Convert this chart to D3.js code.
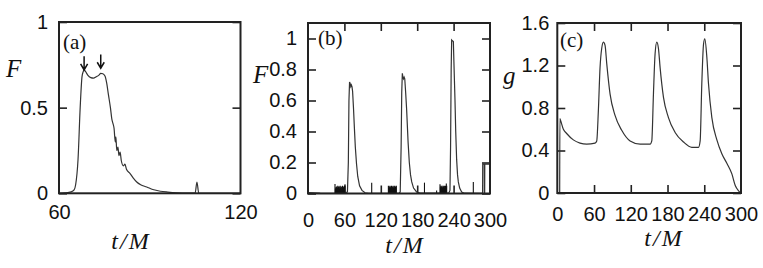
<!DOCTYPE html>
<html>
<head>
<meta charset="utf-8">
<script src="https://cdn.jsdelivr.net/npm/d3@7"></script>
<style>
  body { margin: 0; background: #fff; }
  .tick text { font-family: "Liberation Sans", Arial, sans-serif; font-size: 20px; fill: #111; }
  .tick line { stroke: #222; stroke-width: 1.6; }
  .lab { font-family: "Liberation Serif", "Times New Roman", serif; fill: #111; }
</style>
</head>
<body>
<div id="chart"></div>
<script>
// panel (a): F vs t/M, zoom on first burst
var aT = [60, 62, 64, 65, 65.5, 66.3, 67, 67.6, 68, 68.3, 68.8, 69.5, 70.5, 71.4, 72.3, 73.2, 73.8, 74.5, 75.2, 75.8, 76.3, 77, 77.5, 77.8, 78.2, 78.6, 78.8, 79.1, 79.5, 79.8, 80.2, 80.6, 81.3, 81.8, 82.3, 83.5, 84.5, 85.7, 87, 89, 91, 93.5, 96, 99, 102, 105, 105.6, 106.2, 110, 120];
var aF = [0, 0.002, 0.008, 0.02, 0.05, 0.2, 0.5, 0.68, 0.71, 0.72, 0.71, 0.69, 0.675, 0.672, 0.68, 0.69, 0.70, 0.698, 0.685, 0.64, 0.58, 0.50, 0.43, 0.41, 0.38, 0.30, 0.33, 0.25, 0.27, 0.22, 0.24, 0.19, 0.16, 0.17, 0.14, 0.115, 0.09, 0.066, 0.05, 0.037, 0.022, 0.012, 0.007, 0.003, 0.001, 0.001, 0.066, 0.001, 0, 0];
var aXTicks = [60, 120];
var aYTicks = [0, 0.5, 1];
var arrowT = [68.3, 73.8];
var arrowTop = [0.80, 0.81];
var arrowTip = [0.72, 0.73];

// panel (b): F vs t/M, full run
var bT = [0, 10, 20, 30, 44, 61, 65, 66.5, 67.5, 68.5, 69.5, 70.5, 71.5, 72.5, 73.5, 75, 76.5, 78, 80, 82, 85, 89, 94, 100, 150, 152, 153.5, 154.5, 155.5, 156.5, 157.5, 158.5, 159.5, 161, 162.6, 165, 167, 169, 171, 174, 179, 185, 232, 234, 235, 236, 236.8, 238, 239.6, 240.5, 242.3, 243.5, 245, 246.5, 247.8, 250, 253.3, 258, 287.8, 288, 290.5, 290.7, 291.2, 291.4, 300];
var bF = [0.006, 0.004, 0.002, 0.001, 0.001, 0.005, 0.01, 0.2, 0.6, 0.72, 0.71, 0.69, 0.70, 0.69, 0.66, 0.55, 0.42, 0.3, 0.19, 0.11, 0.05, 0.02, 0.005, 0.001, 0.001, 0.01, 0.3, 0.65, 0.776, 0.75, 0.74, 0.75, 0.74, 0.65, 0.54, 0.33, 0.2, 0.12, 0.075, 0.035, 0.01, 0.002, 0.002, 0.02, 0.3, 0.8, 0.99, 0.985, 0.98, 0.85, 0.6, 0.4, 0.22, 0.12, 0.075, 0.035, 0.01, 0.002, 0.001, 0.19, 0.19, 0, 0, 0.19, 0.19];
var bSpikeT = [44.5, 45.2, 45.8, 46.5, 47.1, 47.8, 48.4, 49.1, 49.7, 50.4, 51, 51.7, 52.3, 53, 53.6, 54.3, 54.9, 55.6, 56.2, 56.9, 57.5, 58.2, 58.8, 59.5, 60.2, 61,
               105, 132.5, 133.2, 133.8, 134.5, 135.1, 135.8, 136.4, 137.1, 137.7, 138.4, 139, 139.7, 140.3, 141, 141.6, 142.3, 142.9, 143.6, 144.2, 144.9, 145.6,
               192, 212, 217.6, 218.3, 218.9, 219.6, 220.2, 220.9, 221.5, 222.2, 222.8, 223.5, 224.1, 224.8, 225.4, 226.1, 226.7, 227.4, 228, 228.6, 272.5];
var bSpikeH = [0.062, 0.03, 0.04, 0.035, 0.045, 0.03, 0.04, 0.05, 0.035, 0.045, 0.04, 0.03, 0.045, 0.05, 0.035, 0.04, 0.045, 0.03, 0.04, 0.05, 0.035, 0.045, 0.04, 0.03, 0.05, 0.06,
               0.07, 0.05, 0.035, 0.045, 0.04, 0.05, 0.035, 0.045, 0.04, 0.05, 0.035, 0.045, 0.04, 0.05, 0.035, 0.045, 0.04, 0.05, 0.035, 0.045, 0.04, 0.05,
               0.07, 0.02, 0.06, 0.04, 0.05, 0.035, 0.045, 0.05, 0.04, 0.035, 0.05, 0.045, 0.04, 0.05, 0.035, 0.045, 0.05, 0.04, 0.065, 0.05, 0.075];
var bXTicks = [0, 60, 120, 180, 240, 300];
var bYTicks = [0, 0.2, 0.4, 0.6, 0.8, 1];

// panel (c): g vs t/M
var cT = [3.9, 4.2, 5.5, 9.9, 15.3, 26.2, 37.1, 48, 61.6, 64.4, 67.1, 69.8, 72.5, 75.3, 78, 80.7, 86.2, 94.3, 105.2, 118.9, 135.2, 151.6, 154.3, 157, 159.7, 162.5, 165.2, 167.9, 173.4, 181.5, 192.4, 206.1, 219.7, 230.6, 233.3, 236, 238.8, 240.9, 244.2, 246.9, 252.4, 260.6, 268.7, 276.9, 285.1, 290.6, 296, 300];
var cG = [0, 0.70, 0.68, 0.60, 0.56, 0.50, 0.47, 0.46, 0.47, 0.49, 0.78, 1.18, 1.36, 1.42, 1.39, 1.22, 0.93, 0.73, 0.59, 0.49, 0.46, 0.46, 0.49, 0.93, 1.31, 1.42, 1.36, 1.18, 0.90, 0.71, 0.57, 0.48, 0.43, 0.43, 0.49, 1.03, 1.40, 1.45, 1.28, 1.03, 0.71, 0.50, 0.37, 0.28, 0.18, 0.07, 0.02, 0];
var cXTicks = [0, 60, 120, 180, 240, 300];
var cYTicks = [0, 0.4, 0.8, 1.2, 1.6];

var width = 763, height = 268;

var svg = d3.select('#chart')
    .append('svg')
    .attr('width', width)
    .attr('height', height)
    .style('background', '#fff');

var panels = [
    {t: aT, v: aF, xd: [60, 120], yd: [0, 1], x0: 59, x1: 240.5, y0: 22, y1: 193.3,
     xt: aXTicks, yt: aYTicks, innerX: [], xPad: 12, yPad: 11, curve: d3.curveMonotoneX,
     tag: '(a)', tagX: 63, tagY: 49, yl: 'F', ylX: 6, ylY: 77, tmX: 131, tmY: 249},
    {t: bT, v: bF, xd: [0, 300], yd: [0, 1.1], x0: 308, x1: 490, y0: 23, y1: 193.5,
     xt: bXTicks, yt: bYTicks, innerX: [60, 120, 180, 240], xPad: 19.5, yPad: 11, curve: d3.curveLinear,
     tag: '(b)', tagX: 318, tagY: 45, yl: 'F', ylX: 253, ylY: 83, tmX: 405, tmY: 253},
    {t: cT, v: cG, xd: [0, 300], yd: [0, 1.6], x0: 557.3, x1: 741, y0: 23, y1: 193,
     xt: cXTicks, yt: cYTicks, innerX: [60, 120, 180, 240], xPad: 14, yPad: 8, curve: d3.curveMonotoneX,
     tag: '(c)', tagX: 560, tagY: 47, yl: 'g', ylX: 503, ylY: 84, tmX: 664, tmY: 246}
];

panels.forEach(function(p, i) {
    var x = d3.scaleLinear().domain(p.xd).range([p.x0, p.x1]);
    var y = d3.scaleLinear().domain(p.yd).range([p.y1, p.y0]);
    var g = svg.append('g').attr('class', 'panel');

    // inward ticks on all sides
    g.append('g').attr('transform', `translate(${p.x0},0)`)
        .call(d3.axisLeft(y).tickValues(p.yt).tickSize(-8).tickPadding(p.yPad).tickFormat(d => String(d)));
    g.append('g').attr('transform', `translate(${p.x1},0)`)
        .call(d3.axisRight(y).tickValues(p.yt).tickSize(-8).tickFormat(''));
    g.append('g').attr('transform', `translate(0,${p.y1})`)
        .call(d3.axisBottom(x).tickValues(p.xt).tickSize(0).tickPadding(p.xPad).tickFormat(d => String(d)));
    g.append('g').attr('transform', `translate(0,${p.y1})`)
        .call(d3.axisBottom(x).tickValues(p.innerX).tickSize(-8).tickFormat(''));
    g.append('g').attr('transform', `translate(0,${p.y0})`)
        .call(d3.axisTop(x).tickValues(p.innerX).tickSize(-8).tickFormat(''));
    g.selectAll('.domain').remove();

    var pts = p.t.map((d, k) => [d, p.v[k]]);
    g.append('path')
        .datum(pts)
        .attr('fill', 'none')
        .attr('stroke', '#333')
        .attr('stroke-width', 1.2)
        .attr('d', d3.line().x(d => x(d[0])).y(d => y(d[1])).curve(p.curve));

    if (i === 1) {
        g.selectAll('.spike')
            .data(bSpikeT)
            .enter()
            .append('line')
            .attr('class', 'spike')
            .attr('x1', d => x(d)).attr('x2', d => x(d))
            .attr('y1', y(0)).attr('y2', (d, k) => y(bSpikeH[k]))
            .attr('stroke', '#111')
            .attr('stroke-width', 1.1);
    }

    if (i === 0) {
        arrowT.forEach(function(t, k) {
            var ax = x(t), top = y(arrowTop[k]), tip = y(arrowTip[k]);
            g.append('path')
                .attr('d', `M${ax},${top}L${ax},${tip}M${ax - 3.5},${tip - 6}L${ax},${tip}L${ax + 3.5},${tip - 6}`)
                .attr('fill', 'none')
                .attr('stroke', '#111')
                .attr('stroke-width', 1.5);
        });
    }

    g.append('rect')
        .attr('x', p.x0).attr('y', p.y0)
        .attr('width', p.x1 - p.x0).attr('height', p.y1 - p.y0)
        .attr('fill', 'none')
        .attr('stroke', '#222')
        .attr('stroke-width', 2);

    g.append('text').attr('class', 'lab')
        .attr('x', p.tagX).attr('y', p.tagY)
        .style('font-size', '21px')
        .text(p.tag);

    g.append('text').attr('class', 'lab')
        .attr('x', p.ylX).attr('y', p.ylY)
        .style('font-size', '25px').style('font-style', 'italic')
        .text(p.yl);

    g.append('text').attr('class', 'lab')
        .attr('x', p.tmX).attr('y', p.tmY)
        .attr('text-anchor', 'middle')
        .style('font-size', '24px').style('font-style', 'italic')
        .style('letter-spacing', '2px')
        .text('t/M');
});
</script>
</body>
</html>
